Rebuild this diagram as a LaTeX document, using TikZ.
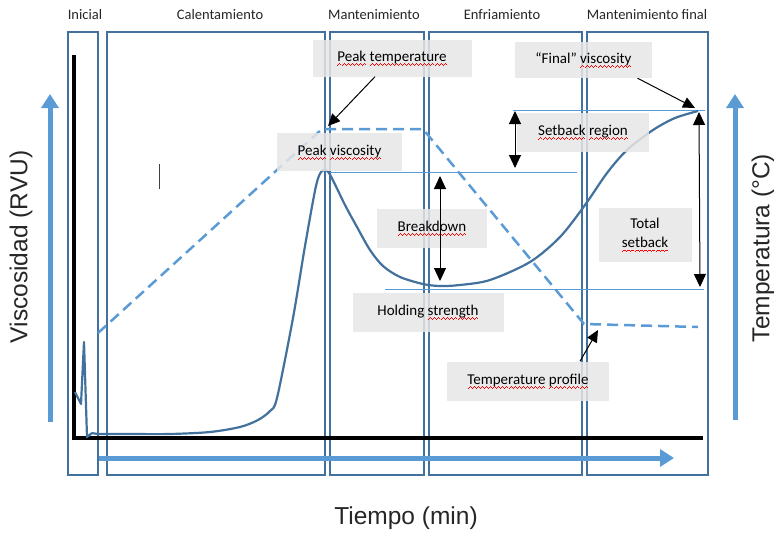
\documentclass[tikz,border=0pt]{standalone}
\usepackage{fontspec}
\setmainfont{Carlito}
\setsansfont{Liberation Sans}
\usetikzlibrary{arrows.meta, positioning}
\definecolor{framebl}{HTML}{41719C}
\definecolor{lightbl}{HTML}{5B9BD5}
\definecolor{labelgray}{HTML}{E7E6E6}
% red wavy underline, as the spell checker draws it
\newcommand{\wavebit}{\rule[-4pt]{1pt}{0.7pt}\rule[-3.3pt]{1pt}{0.7pt}\rule[-2.6pt]{1pt}{0.7pt}\rule[-3.3pt]{1pt}{0.7pt}}
\newcommand{\spell}[1]{\leavevmode\setbox0=\hbox{#1}\rlap{\usebox0}\textcolor{red}{\hbox to \wd0{\xleaders\hbox{\wavebit}\hfil}}}
\tikzset{
    phase/.style={draw=framebl, line width=2pt},
    phasetitle/.style={font=\fontsize{14.5}{17}\selectfont, text=black!85},
    labelbox/.style={fill=labelgray, fill opacity=0.85, text opacity=1, inner sep=0pt,
                     font=\fontsize{15}{19}\selectfont, align=center},
    axistitle/.style={font=\sffamily\fontsize{24.5}{28}\selectfont, text=black!85},
    bigarrow/.style={draw=lightbl, line width=5pt, -{Triangle[length=14pt,width=17pt]}},
    refline/.style={draw=lightbl, line width=1pt},
    twoway/.style={line width=1pt, {Triangle[length=13pt,width=12pt]}-{Triangle[length=13pt,width=12pt]}},
    pointer/.style={line width=1pt, -{Triangle[length=12pt,width=11pt]}}
}

\begin{document}
\begin{tikzpicture}[x=1pt, y=-1pt]
    \useasboundingbox (0,0) rectangle (774,536);

    % phases
    \draw[phase] (68,32) rectangle (98,475);
    \draw[phase] (107,32) rectangle (325,475);
    \draw[phase] (330,32) rectangle (424,475);
    \draw[phase] (429,32) rectangle (582,475);
    \draw[phase] (587,32) rectangle (708,475);
    \node[phasetitle] (tini)  at (85,15)  {Inicial};
    \node[phasetitle] (tcal)  at (220,15) {Calentamiento};
    \node[phasetitle] (tman)  at (374,15) {Mantenimiento};
    \node[phasetitle] (tenf)  at (502,15) {Enfriamiento};
    \node[phasetitle] (tmanf) at (647,15) {Mantenimiento final};

    % axes
    \draw[line width=3.5pt] (74,55) -- (74,438) -- (703,438);
    \draw[bigarrow] (50,422) -- (50,94);
    \draw[bigarrow] (735,420) -- (735,94);
    \draw[bigarrow] (99,458) -- (674,458);
    \node[axistitle, rotate=90] (ylab)  at (21,247)  {Viscosidad (RVU)};
    \node[axistitle, rotate=90] (y2lab) at (763,248) {Temperatura (°C)};
    \node[axistitle]            (xlab)  at (406,518) {Tiempo (min)};

    % reference levels
    \draw[refline] (328,172) -- (577,172);
    \draw[refline] (385,289) -- (704,289);
    \draw[refline] (513,110) -- (705,110);

    % temperature profile
    \draw[lightbl, line width=2.5pt, dash pattern=on 11pt off 6pt]
        (98,333) -- (322,129) -- (423,129) -- (584,324) -- (698,327);

    % viscosity curve
    \draw[framebl, line width=2.2pt, line join=round]
        (75,392) -- (81,404) -- (84,342) -- (87,437) -- (92,433)
        plot[smooth, tension=0.5] coordinates {(92,433) (100,434) (127,434) (170,434)
            (210,432) (240,427) (258,420) (270,411) (277,398) (293,318) (305,246)
            (316,186) (322,171) (329,173) (345,205) (357,227) (370,250) (383,266)
            (400,277) (423,284) (440,286) (460,285) (490,280) (530,262) (560,237)
            (585,205) (607,173) (627,150) (653,130) (675,118) (698,111)};

    \draw[darkgray, line width=1pt] (159,164) -- (159,189);

    % labels
    \node[labelbox, minimum width=159pt, minimum height=37pt] (ptemp) at (392,58)    {\spell{Peak} \spell{temperature}};
    \node[labelbox, minimum width=137pt, minimum height=36pt] (fvisc) at (583.5,60)  {“Final” \spell{viscosity}};
    \node[labelbox, minimum width=132pt, minimum height=39pt] (sreg)  at (583,132)   {\spell{Setback} \spell{region}};
    \node[labelbox, minimum width=125pt, minimum height=38pt] (pvisc) at (339.5,152) {\spell{Peak} \spell{viscosity}};
    \node[labelbox, minimum width=110pt, minimum height=39pt] (bdown) at (432,228)   {\spell{Breakdown}};
    \node[labelbox, minimum width=93pt,  minimum height=54pt] (tset)  at (645,235)   {Total\\\spell{setback}};
    \node[labelbox, minimum width=151pt, minimum height=39pt] (hstr)  at (428,312)   {Holding \spell{strength}};
    \node[labelbox, minimum width=162pt, minimum height=39pt] (tprof) at (528,381)   {\spell{Temperature} \spell{profile}};

    % arrows
    \coordinate (tpeak)  at (328,126);
    \coordinate (vfinal) at (695,108);
    \coordinate (tcool)  at (598,330);
    \draw[pointer] ([xshift=-17pt]ptemp.south) -- (tpeak);
    \draw[pointer] ([xshift=54pt]fvisc.south) -- (vfinal);
    \draw[pointer] ([xshift=52pt]tprof.north) -- (tcool);

    \coordinate (sbtop) at (515,111);
    \coordinate (sbbot) at (515,168);
    \coordinate (bdtop) at (440,176);
    \coordinate (bdbot) at (440,281);
    \coordinate (tstop) at (699,112);
    \coordinate (tsbot) at (700,287);
    \draw[twoway] (sbtop) -- (sbbot);
    \draw[twoway] (bdtop) -- (bdbot);
    \draw[twoway] (tstop) -- (tsbot);
\end{tikzpicture}
\end{document}
